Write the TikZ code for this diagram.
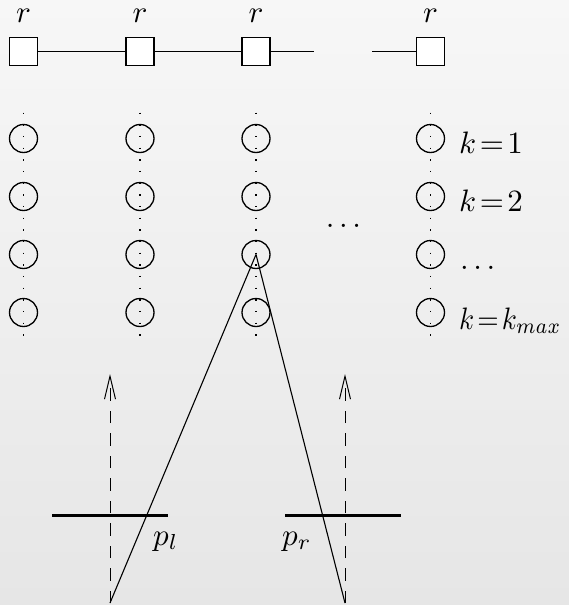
\documentclass[tikz,border=0pt]{standalone}
\usepackage{graphicx}
\usetikzlibrary{arrows.meta}
\definecolor{bgtop}{RGB}{247,247,247}
\definecolor{bgbot}{RGB}{230,230,230}
\newcommand{\tdots}{.\hspace{1.5pt}.\hspace{1.5pt}.}
\newcommand{\bigtxt}[1]{\scalebox{3.1}{#1}}
\tikzset{
  sq/.style={draw, fill=white, line width=1.2pt, minimum size=28pt, inner sep=0pt},
  cell/.style={draw, circle, line width=1.3pt, minimum size=28pt, inner sep=0pt},
  lbl/.style={inner sep=0pt},
  dotline/.style={line width=1.5pt, dash pattern=on 1.6pt off 10.07pt},
  wire/.style={line width=1.1pt},
  conel/.style={line width=1.1pt},
  bar/.style={line width=2.6pt},
  upar/.style={line width=1pt, dash pattern=on 12.5pt off 10pt, -{Straight Barb[length=23pt,width=11pt,line width=1pt]}},
}
\begin{document}
\begin{tikzpicture}[x=1pt,y=-1pt]
\shade[top color=bgtop, bottom color=bgbot] (0,0) rectangle (569,605);
\useasboundingbox (0,0) rectangle (569,605);
% top row of squares
\foreach \i/\x in {1/23.5,2/140,3/256,4/430.5}{
  \node[sq] (s\i) at (\x,51.5) {};
  \node[lbl, anchor=base] (r\i) at (\x,23) {\bigtxt{$r$}};
}
\coordinate (w1) at (314,51.5);
\coordinate (w2) at (372,51.5);
\draw[wire] (s1) -- (s2);
\draw[wire] (s2) -- (s3);
\draw[wire] (s3) -- (w1);
\draw[wire] (w2) -- (s4);
% columns of circles
\foreach \i/\x in {1/23.5,2/140,3/256,4/430.5}{
  \coordinate (t\i) at (\x,112.5);
  \coordinate (b\i) at (\x,341);
  \draw[dotline] (t\i) -- (b\i);
  \foreach \j/\y in {1/138.5,2/196.5,3/254.5,4/312.5}{
    \node[cell] (c\i\j) at (\x,\y) {};
  }
}
\node[lbl, anchor=base] (mdots) at (343.5,227) {\bigtxt{\tdots}};
\node[lbl, anchor=base west] (k1) at (459,153) {\bigtxt{$k\!=\!1$}};
\node[lbl, anchor=base west] (k2) at (459,211) {\bigtxt{$k\!=\!2$}};
\node[lbl, anchor=base west] (k3) at (460,269) {\bigtxt{\tdots}};
\node[lbl, anchor=base west] (k4) at (459,329) {\scalebox{2.75}[3.1]{$k\!=\!k_{max}$}};
% cone
\coordinate (cl) at (110,603);
\coordinate (cr) at (345,603);
\draw[conel] (c33.center) -- (cl);
\draw[conel] (c33.center) -- (cr);
% dashed arrows
\coordinate (al) at (110,374);
\coordinate (ar) at (345,374);
\draw[upar] (cl) -- (al);
\draw[upar] (cr) -- (ar);
% bars
\coordinate (bl1) at (52,515.5);
\coordinate (bl2) at (168,515.5);
\coordinate (br1) at (285,515.5);
\coordinate (br2) at (401,515.5);
\draw[bar] (bl1) -- (bl2);
\draw[bar] (br1) -- (br2);
\node[lbl, anchor=base west] (pl) at (153,545) {\bigtxt{$p_l$}};
\node[lbl, anchor=base west] (pr) at (282,545) {\bigtxt{$p_r$}};
\end{tikzpicture}
\end{document}
